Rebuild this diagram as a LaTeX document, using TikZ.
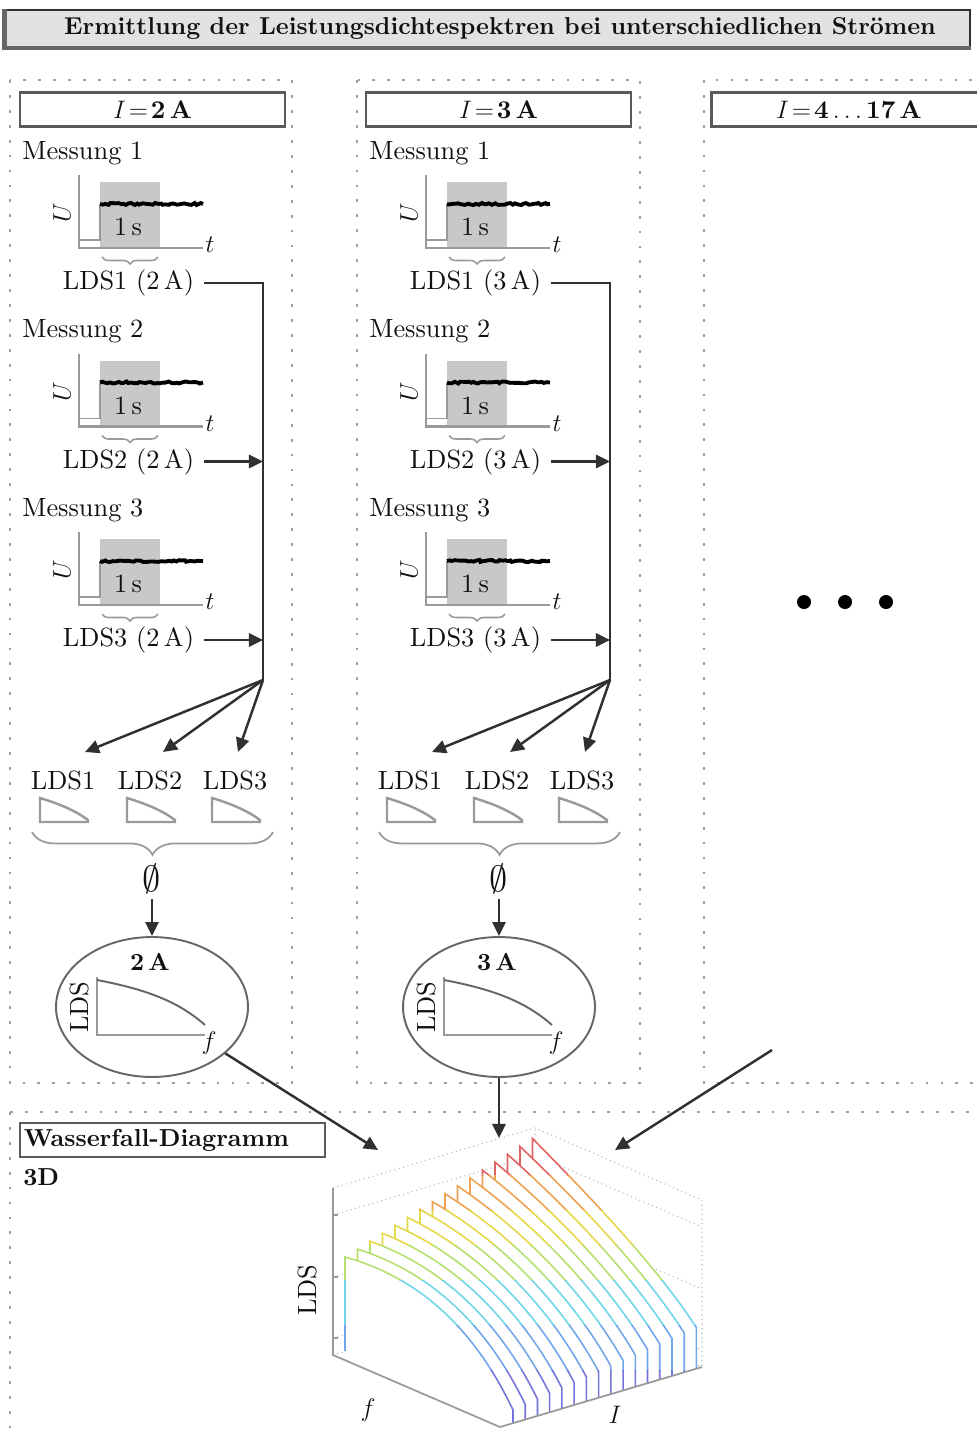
\documentclass[tikz,border=0pt]{standalone}
\usepackage{amsmath,amssymb}
\usepackage{fontspec}
\setmainfont{lmroman10-regular.otf}[BoldFont=lmroman10-bold.otf, ItalicFont=lmroman10-italic.otf]
\usetikzlibrary{arrows.meta,positioning,calc,shapes.geometric,decorations.pathreplacing,decorations.pathmorphing}
\definecolor{ink}{HTML}{111111}
\definecolor{ink2}{HTML}{303030}
\definecolor{boxline}{HTML}{5A5A5A}
\definecolor{dotgray}{HTML}{A0A0A0}
\definecolor{barfill}{HTML}{E2E2E2}
\definecolor{axisgray}{HTML}{9A9A9A}
\definecolor{shade}{HTML}{C8C8C8}
\definecolor{ellline}{HTML}{666666}
\definecolor{gridgray}{HTML}{B4B4B4}
\definecolor{jred}{HTML}{E06262}
\definecolor{jorange}{HTML}{EFA152}
\definecolor{jyellow}{HTML}{E4D848}
\definecolor{jlime}{HTML}{B6E06E}
\definecolor{jcyan}{HTML}{6ED6E8}
\definecolor{jsky}{HTML}{72A6EA}
\definecolor{jblue}{HTML}{7474DC}
\tikzset{
  every node/.style={font=\fontsize{15}{18}\selectfont, text=ink, inner sep=0pt},
  panel/.style={draw=dotgray, line width=1.6pt, dash pattern=on 1.6pt off 6.9pt},
  titlebar/.style={fill=barfill, draw=ink2, line width=0.8pt, minimum width=19.3cm, minimum height=0.74cm,
    font=\fontsize{13.9}{16}\selectfont\bfseries},
  barshadow/.style={draw=black!60, line width=2.4pt},
  headbox/.style={draw=boxline, line width=1.4pt, minimum width=5.3cm, minimum height=0.68cm,
    font=\fontsize{14.5}{17}\selectfont},
  axis/.style={draw=axisgray, line width=1.5pt},
  window/.style={fill=shade, draw=none},
  sigbase/.style={draw=axisgray, line width=1pt},
  signal/.style={draw=black, line width=2.2pt, decorate, decoration={random steps, segment length=1.5pt, amplitude=0.6pt}},
  tinybrace/.style={draw=axisgray, line width=0.9pt, decorate, decoration={brace, amplitude=4pt}},
  bigbrace/.style={draw=axisgray, line width=1pt, decorate, decoration={brace, amplitude=13pt}},
  conn/.style={draw=ink2, line width=1.4pt},
  arr/.style={conn, -{Triangle[length=8pt, width=7.5pt]}},
  spec/.style={draw=axisgray, line width=1.4pt},
  avgnode/.style={ellipse, draw=ellline, line width=1.1pt, minimum width=3.84cm, minimum height=2.8cm},
  curve/.style={draw=ellline, line width=1.1pt},
  wfaxis/.style={draw=axisgray, line width=1pt},
  wfgrid/.style={draw=gridgray, line width=0.6pt, dotted},
}
\begin{document}
\begin{tikzpicture}[x=0.02cm, y=-0.02cm]
  \clip (0,0) rectangle (977,1434);
  \pgfmathsetseed{42}

  % ---- title ------------------------------------------------------------
  \node[titlebar] (title) at (487.5,28.5) {\hspace*{0.5cm}Ermittlung der Leistungsdichtespektren bei unterschiedlichen Strömen};
  \draw[barshadow] (title.north west) -- (title.south west) -- (title.south east);

  % ---- dotted panels ----------------------------------------------------
  \draw[panel] (10,80) rectangle (292,1083);
  \draw[panel] (357,80) rectangle (640,1083);
  \draw[panel] (704,80) rectangle (1000,1083);
  \draw[panel] (10,1112) rectangle (1000,1460);

  % ---- column heads -----------------------------------------------------
  \node[headbox] (head2) at (152.5,109.5) {$I\!=\!\mathbf{2\,A}$};
  \node[headbox] (head3) at (498.5,109.5) {$I\!=\!\mathbf{3\,A}$};
  \node[headbox, minimum width=5.5cm] (head4) at (849,109.5) {$I\!=\!\mathbf{4\ldots17\,A}$};

  % ---- one column per current ------------------------------------------
  \foreach \c/\cur in {0/2,1/3} {
    \pgfmathsetmacro{\dx}{347*\c}
    \foreach \m in {1,2,3} {
      \pgfmathsetmacro{\dy}{178.5*(\m-1)}
      \node[anchor=west] (mess\c\m) at (22+\dx,153+\dy) {Messung \m};
      \fill[window] (100+\dx,182+\dy) rectangle (160+\dx,248+\dy);
      \draw[axis] (79+\dx,175+\dy) -- (79+\dx,248+\dy) -- (203+\dx,248+\dy);
      \draw[sigbase] (79+\dx,240+\dy) -- (100+\dx,240+\dy) -- (100+\dx,204+\dy);
      \draw[signal] (100+\dx,204+\dy) -- (203+\dx,204+\dy);
      \node (win\c\m) at (128+\dx,227+\dy) {1\,s};
      \node[rotate=90] (u\c\m) at (62+\dx,213+\dy) {$U$};
      \node (t\c\m) at (210+\dx,245+\dy) {$t$};
      \draw[tinybrace] (158+\dx,257+\dy) -- (102+\dx,257+\dy);
      \node (lds\c\m) at (128.5+\dx,283+\dy) {LDS\m\ (\cur\,A)};
    }
    \coordinate (hub\c) at (263+\dx,680);
    \draw[conn, shorten <=0.2cm] (lds\c1.east) -- (lds\c1.east -| hub\c) -- (hub\c);
    \draw[arr, shorten <=0.2cm] (lds\c2.east) -- (lds\c2.east -| hub\c);
    \draw[arr, shorten <=0.2cm] (lds\c3.east) -- (lds\c3.east -| hub\c);

    % single spectra
    \foreach \k/\lx/\tx in {1/63/22, 2/150/13, 3/235/3} {
      \node (sp\c\k) at (\lx+\dx,780) {LDS\k};
      \draw[arr] (hub\c) -- ([shift={(\tx,-28)}]sp\c\k.center);
      \pgfmathsetmacro{\ix}{\lx-23+\dx}
      \draw[spec] (\ix+48,822) -- (\ix,822) -- (\ix,798) .. controls (\ix+20,804) and (\ix+36,811) .. (\ix+48,820) -- cycle;
    }
    \draw[bigbrace] (273+\dx,832) -- (32+\dx,832);

    % mean spectrum
    \node[font=\fontsize{20}{22}\selectfont] (avg\c) at (152+\dx,879) {$\emptyset$};
    \node[avgnode] (ell\c) at (152+\dx,1007) {};
    \draw[arr, shorten <=0.1cm] (avg\c) -- (ell\c);
    \node[font=\fontsize{14}{16}\selectfont\bfseries] (amp\c) at (150+\dx,962) {\cur\,A};
    \draw[axis] (97+\dx,977) -- (97+\dx,1035) -- (205+\dx,1035);
    \draw[curve] (97+\dx,980) .. controls (150+\dx,990) and (180+\dx,1003) .. (205+\dx,1025);
    \node[rotate=90] (ly\c) at (79+\dx,1007) {LDS};
    \node (lf\c) at (209+\dx,1043) {$f$};
  }

  % ---- further currents -------------------------------------------------
  \foreach \n/\px in {1/804,2/845,3/886}
    \node[circle, fill=black, minimum size=0.28cm] (dot\n) at (\px,602) {};

  % ---- waterfall diagram ------------------------------------------------
  \node[headbox, minimum width=6.1cm, text width=5.95cm, align=left, font=\fontsize{14}{16}\selectfont\bfseries]
    (wfhead) at (172.5,1140) {Wasserfall-Diagramm};
  \node[anchor=west, font=\fontsize{14}{16}\selectfont\bfseries] (wf3d) at (23,1177) {3D};

  \coordinate (wfO) at (500,1427);
  \coordinate (wfF) at (333,1355);
  \coordinate (wfR) at (702,1367);
  \coordinate (wfB) at (535,1295);
  \coordinate (wfFt) at (333,1188);
  \coordinate (wfBt) at (535,1128);
  \coordinate (wfRt) at (702,1200);
  \draw[wfgrid] (wfF) -- (wfB) -- (wfR) (wfB) -- (wfBt) (wfFt) -- (wfBt) -- (wfRt) -- (wfR);
  \foreach \ty in {1215,1277,1338}
    \draw[wfgrid] (333,\ty) -- (535,\ty-60) -- (702,\ty+12);

  \foreach \i in {15,14,...,0} {
    \pgfmathsetmacro{\sx}{345+12.5*\i}
    \pgfmathsetmacro{\sy}{1257-7.9*\i}
    \pgfmathsetmacro{\ex}{\sx+168-0.27*\i}
    \pgfmathsetmacro{\ey}{\sy+153+2.4*\i}
    \pgfmathsetmacro{\ax}{\sx+65-\i}
    \pgfmathsetmacro{\ay}{\sy+18+2.2*\i}
    \pgfmathsetmacro{\bx}{\sx+125-0.33*\i}
    \pgfmathsetmacro{\by}{\sy+62+4*\i}
    \pgfmathsetmacro{\sf}{1351-3.7*\i}
    \pgfmathsetmacro{\ef}{1427-(\ex-500)*0.297}
    \fill[white] (\sx,\sf) -- (\sx,\sy) .. controls (\ax,\ay) and (\bx,\by) .. (\ex,\ey) -- (\ex,\ef) -- cycle;
    \foreach \ylo/\yhi/\col in {1100/1175/jred, 1175/1210/jorange, 1210/1245/jyellow, 1245/1280/jlime,
                               1280/1325/jcyan, 1325/1370/jsky, 1370/1440/jblue} {
      \begin{scope}
        \clip (300,\ylo) rectangle (720,\yhi);
        \draw[\col, line width=0.9pt] (\sx,\sf) -- (\sx,\sy) .. controls (\ax,\ay) and (\bx,\by) .. (\ex,\ey) -- (\ex,\ef);
      \end{scope}
    }
  }
  \draw[wfaxis] (wfFt) -- (wfF) -- (wfO) -- (wfR);
  \foreach \ty in {1215,1277,1338}
    \draw[wfaxis] (333,\ty) -- (338,\ty);
  \node[rotate=90] (wfy) at (307,1290) {LDS};
  \node (wff) at (368,1410) {$f$};
  \node (wfi) at (615,1415) {$I$};

  % ---- into the waterfall -----------------------------------------------
  \coordinate (inL) at (378,1150);
  \coordinate (inM) at (499,1138);
  \coordinate (inR) at (615,1150);
  \coordinate (from4) at (772,1050);
  \draw[arr] (ell0) -- (inL);
  \draw[arr] (ell1) -- (inM);
  \draw[arr] (from4) -- (inR);
\end{tikzpicture}
\end{document}
